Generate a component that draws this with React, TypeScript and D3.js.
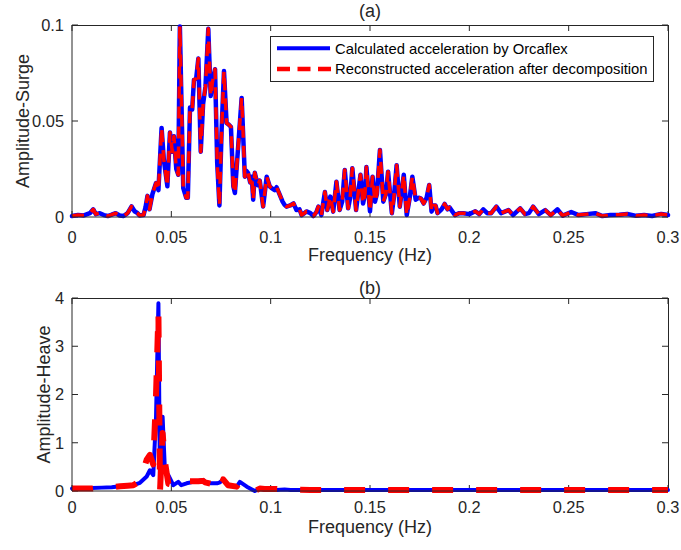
import React from 'react';
import * as d3 from 'd3';

// ---------- data ----------
const xTicks = [0, 0.05, 0.1, 0.15, 0.2, 0.25, 0.3];
const xTickLabels = ['0', '0.05', '0.1', '0.15', '0.2', '0.25', '0.3'];
const surgeYTicks = [0, 0.05, 0.1];
const surgeYTickLabels = ['0', '0.05', '0.1'];
const heaveYTicks = [0, 1, 2, 3, 4];
const heaveYTickLabels = ['0', '1', '2', '3', '4'];
const legendLabels = [
  'Calculated acceleration by Orcaflex',
  'Reconstructed acceleration after decomposition',
];

const surgeFreq = [
  0.000, 0.003, 0.006, 0.009, 0.0107, 0.012, 0.014, 0.016, 0.018, 0.020,
  0.022, 0.024, 0.026, 0.028, 0.030, 0.0315, 0.033, 0.034, 0.036, 0.037,
  0.038, 0.039, 0.0405, 0.0423, 0.0435, 0.0451, 0.0462, 0.048, 0.0493, 0.0505,
  0.0513, 0.0525, 0.0535, 0.0543, 0.056, 0.0575, 0.0583, 0.0594, 0.0605, 0.0614,
  0.0625, 0.0636, 0.0648, 0.066, 0.0672, 0.0686, 0.0698, 0.0708, 0.072, 0.0731,
  0.0742, 0.0753, 0.0765, 0.0778, 0.079, 0.080, 0.0812, 0.082, 0.0829, 0.0854,
  0.087, 0.0878, 0.0886, 0.0897, 0.0905, 0.0912, 0.092, 0.0935, 0.0945, 0.0962,
  0.098, 0.0995, 0.1005, 0.102, 0.103, 0.1046, 0.106, 0.107, 0.108, 0.1098,
  0.1115, 0.113, 0.1145, 0.1156, 0.117, 0.118, 0.120, 0.1215, 0.123, 0.124,
  0.1255, 0.1273, 0.1285, 0.130, 0.1315, 0.1331, 0.1347, 0.136, 0.1373, 0.139,
  0.140, 0.1411, 0.143, 0.1452, 0.1465, 0.1475, 0.1482, 0.150, 0.1513, 0.1525,
  0.1535, 0.155, 0.1567, 0.158, 0.1591, 0.161, 0.162, 0.1634, 0.165, 0.167,
  0.1685, 0.170, 0.1713, 0.173, 0.1745, 0.1756, 0.177, 0.1785, 0.1798, 0.181,
  0.182, 0.183, 0.184, 0.186, 0.1876, 0.189, 0.190, 0.1927, 0.195, 0.197,
  0.200, 0.203, 0.205, 0.207, 0.209, 0.211, 0.2136, 0.216, 0.2197, 0.222,
  0.2256, 0.228, 0.230, 0.2321, 0.235, 0.2382, 0.241, 0.2443, 0.247, 0.2513,
  0.255, 0.259, 0.2634, 0.267, 0.271, 0.2755, 0.2795, 0.284, 0.288, 0.292,
  0.2966, 0.300,
];
const surgeCalculated = [
  0.0005, 0.001, 0.0008, 0.002, 0.004, 0.0015, 0.002, 0.001, 0.0005, 0.0012,
  0.002, 0.0008, 0.0005, 0.002, 0.0055, 0.003, 0.002, 0.0008, 0.001, 0.005,
  0.011, 0.004, 0.012, 0.0177, 0.014, 0.0464, 0.030, 0.016, 0.044, 0.034,
  0.042, 0.025, 0.022, 0.0992, 0.015, 0.010, 0.010, 0.057, 0.056, 0.0715,
  0.072, 0.0825, 0.034, 0.059, 0.068, 0.098, 0.063, 0.071, 0.077, 0.028,
  0.006, 0.045, 0.076, 0.049, 0.048, 0.047, 0.016, 0.0125, 0.026, 0.062,
  0.021, 0.024, 0.023, 0.018, 0.021, 0.009, 0.023, 0.0165, 0.019, 0.0055,
  0.021, 0.016, 0.015, 0.014, 0.0155, 0.0115, 0.008, 0.0063, 0.0054, 0.006,
  0.0071, 0.0036, 0.004, 0.001, 0.002, 0.0029, 0.002, 0.0005, 0.0025, 0.0054,
  0.001, 0.013, 0.0036, 0.0106, 0.0028, 0.0184, 0.0036, 0.008, 0.0245, 0.0045,
  0.010, 0.0254, 0.0036, 0.022, 0.007, 0.012, 0.026, 0.003, 0.021, 0.008,
  0.012, 0.0349, 0.008, 0.012, 0.0236, 0.002, 0.010, 0.027, 0.0054, 0.022,
  0.001, 0.010, 0.021, 0.009, 0.010, 0.0097, 0.007, 0.010, 0.0167, 0.0028,
  0.006, 0.006, 0.002, 0.004, 0.0068, 0.004, 0.005, 0.001, 0.002, 0.002,
  0.0015, 0.003, 0.0015, 0.004, 0.002, 0.002, 0.0054, 0.002, 0.0036, 0.001,
  0.0045, 0.0015, 0.002, 0.0054, 0.0015, 0.0036, 0.001, 0.004, 0.0007, 0.0026,
  0.001, 0.0015, 0.002, 0.0005, 0.001, 0.0012, 0.0016, 0.0006, 0.001, 0.0005,
  0.0016, 0.001,
];
const surgeReconstructed = surgeCalculated.slice();

const heaveFreq = [
  0.000, 0.005, 0.010, 0.015, 0.020, 0.0242, 0.028, 0.0309, 0.0342, 0.0376,
  0.0392, 0.0409, 0.0423, 0.0435, 0.0443, 0.0456, 0.0468, 0.0485, 0.051, 0.0535,
  0.055, 0.0577, 0.061, 0.0636, 0.066, 0.067, 0.0697, 0.073, 0.0745, 0.0761,
  0.0785, 0.0829, 0.0845, 0.088, 0.092, 0.0945, 0.097, 0.100, 0.103, 0.107,
  0.110, 0.120, 0.150, 0.200, 0.250, 0.300,
];
const heaveCalculated = [
  0.05, 0.05, 0.06, 0.07, 0.08, 0.10, 0.11, 0.12, 0.17, 0.30,
  0.43, 0.33, 1.54, 3.89, 0.09, 1.54, 0.40, 0.33, 0.12, 0.19,
  0.12, 0.16, 0.19, 0.21, 0.23, 0.19, 0.16, 0.16, 0.18, 0.24,
  0.12, 0.09, 0.19, 0.09, 0.0, 0.05, 0.02, 0.03, 0.02, 0.03,
  0.02, 0.02, 0.02, 0.02, 0.02, 0.02,
];
const heaveReconstructed = [
  0.05, 0.05, 0.05, 0.07, 0.08, 0.10, 0.11, 0.12, 0.20, 0.65,
  0.75, 0.55, 2.0, 3.7, 0.0, 1.2, 0.6, 0.15, 0.12, 0.20,
  0.15, 0.20, 0.20, 0.20, 0.21, 0.18, 0.15, 0.12, 0.0, 0.24,
  0.12, 0.09, 0.19, 0.10, 0.0, 0.05, 0.04, 0.04, 0.04, 0.03,
  0.03, 0.02, 0.02, 0.02, 0.02, 0.02,
];

// ---------- layout ----------
const W = 681;
const H = 550;
const LEFT = 72;
const RIGHT = 668;
const FONT = '"Liberation Sans", Arial, Helvetica, sans-serif';
const TXT = '#262626';
const BLUE = '#0000ff';
const RED = '#ff0000';

type PanelProps = {
  top: number;
  bottom: number;
  yMax: number;
  yTicks: number[];
  yTickLabels: string[];
  yTitle: string;
  yTitleX: number;
  title: string;
  titleY: number;
  tickDy: number;
  xLabelDy: number;
  freq: number[];
  calc: number[];
  recon: number[];
  blueW: number;
  redW: number;
  dash: string;
  clipId: string;
};

function Panel(p: PanelProps) {
  const x = d3.scaleLinear().domain([0, 0.3]).range([LEFT, RIGHT]);
  const y = d3.scaleLinear().domain([0, p.yMax]).range([p.bottom, p.top]);
  const mk = (vals: number[]) =>
    d3
      .line<number>()
      .x((_, i) => x(p.freq[i]))
      .y((d) => y(d))(vals) || '';
  const midY = (p.top + p.bottom) / 2;
  const tl = 6;
  return (
    <g>
      <defs>
        <clipPath id={p.clipId}>
          <rect x={LEFT - 3} y={p.top - 3} width={RIGHT - LEFT + 6} height={p.bottom - p.top + 6} />
        </clipPath>
      </defs>
      <rect x={LEFT} y={p.top} width={RIGHT - LEFT} height={p.bottom - p.top} fill="#fff" />
      {xTicks.map((t, i) => (
        <g key={'xt' + i}>
          <line x1={x(t)} x2={x(t)} y1={p.bottom} y2={p.bottom - tl} stroke={TXT} strokeWidth={1} />
          <line x1={x(t)} x2={x(t)} y1={p.top} y2={p.top + tl} stroke={TXT} strokeWidth={1} />
          <text x={x(t)} y={p.bottom + p.tickDy} textAnchor="middle" fontSize={16.4} fill={TXT} fontFamily={FONT}>
            {xTickLabels[i]}
          </text>
        </g>
      ))}
      {p.yTicks.map((t, i) => (
        <g key={'yt' + i}>
          <line x1={LEFT} x2={LEFT + tl} y1={y(t)} y2={y(t)} stroke={TXT} strokeWidth={1} />
          <line x1={RIGHT} x2={RIGHT - tl} y1={y(t)} y2={y(t)} stroke={TXT} strokeWidth={1} />
          <text x={64} y={y(t) + 5.8} textAnchor="end" fontSize={16.4} fill={TXT} fontFamily={FONT}>
            {p.yTickLabels[i]}
          </text>
        </g>
      ))}
      <line x1={LEFT} x2={RIGHT + 0.5} y1={p.top + 0.5} y2={p.top + 0.5} stroke={TXT} strokeWidth={1} />
      <line x1={RIGHT + 0.5} x2={RIGHT + 0.5} y1={p.top} y2={p.bottom} stroke={TXT} strokeWidth={1} />
      <g clipPath={`url(#${p.clipId})`}>
        <path d={mk(p.calc)} fill="none" stroke={BLUE} strokeWidth={p.blueW} strokeLinejoin="round" strokeLinecap="round" />
        <path d={mk(p.recon)} fill="none" stroke={RED} strokeWidth={p.redW} strokeLinejoin="round" strokeDasharray={p.dash} />
      </g>
      <line x1={LEFT} x2={LEFT} y1={p.top} y2={p.bottom} stroke={TXT} strokeWidth={1} />
      <line x1={LEFT} x2={RIGHT} y1={p.bottom} y2={p.bottom} stroke={TXT} strokeWidth={1} />
      <text x={(LEFT + RIGHT) / 2} y={p.bottom + p.xLabelDy} textAnchor="middle" fontSize={18} fill={TXT} fontFamily={FONT}>
        Frequency (Hz)
      </text>
      <text x={(LEFT + RIGHT) / 2} y={p.titleY} textAnchor="middle" fontSize={18} fill={TXT} fontFamily={FONT}>
        {p.title}
      </text>
      <text
        transform={`translate(${p.yTitleX},${midY}) rotate(-90)`}
        textAnchor="middle"
        fontSize={18}
        fill={TXT}
        fontFamily={FONT}
      >
        {p.yTitle}
      </text>
    </g>
  );
}

function Legend() {
  const x0 = 270.5;
  const y0 = 36.5;
  const w = 383;
  const h = 45;
  const rows = [48.3, 69];
  return (
    <g>
      <rect x={x0} y={y0} width={w} height={h} fill="#fff" stroke={TXT} strokeWidth={1} />
      <line x1={277} x2={330} y1={rows[0]} y2={rows[0]} stroke={BLUE} strokeWidth={4} />
      <line x1={277} x2={331} y1={rows[1]} y2={rows[1]} stroke={RED} strokeWidth={4.5} strokeDasharray="13,7.5" />
      {legendLabels.map((l, i) => (
        <text key={i} x={335} y={rows[i] + 5.2} fontSize={14.8} fill="#000" fontFamily={FONT}>
          {l}
        </text>
      ))}
    </g>
  );
}

export default function App() {
  return (
    <svg
      width={W}
      height={H}
      viewBox={`0 0 ${W} ${H}`}
      style={{ position: 'absolute', left: 0, top: 0, display: 'block', background: '#fff' }}
    >
      <rect x={0} y={0} width={W} height={H} fill="#fff" />
      <Panel
        top={25}
        bottom={217}
        yMax={0.1}
        yTicks={surgeYTicks}
        yTickLabels={surgeYTickLabels}
        yTitle="Amplitude-Surge"
        yTitleX={29}
        title="(a)"
        titleY={17}
        tickDy={25.5}
        xLabelDy={44}
        freq={surgeFreq}
        calc={surgeCalculated}
        recon={surgeReconstructed}
        blueW={4.5}
        redW={3.5}
        dash="12,8"
        clipId="clipA"
      />
      <Legend />
      <Panel
        top={298}
        bottom={491}
        yMax={4}
        yTicks={heaveYTicks}
        yTickLabels={heaveYTickLabels}
        yTitle="Amplitude-Heave"
        yTitleX={49.5}
        title="(b)"
        titleY={294}
        tickDy={22}
        xLabelDy={42}
        freq={heaveFreq}
        calc={heaveCalculated}
        recon={heaveReconstructed}
        blueW={4}
        redW={6}
        dash="21,23"
        clipId="clipB"
      />
    </svg>
  );
}
